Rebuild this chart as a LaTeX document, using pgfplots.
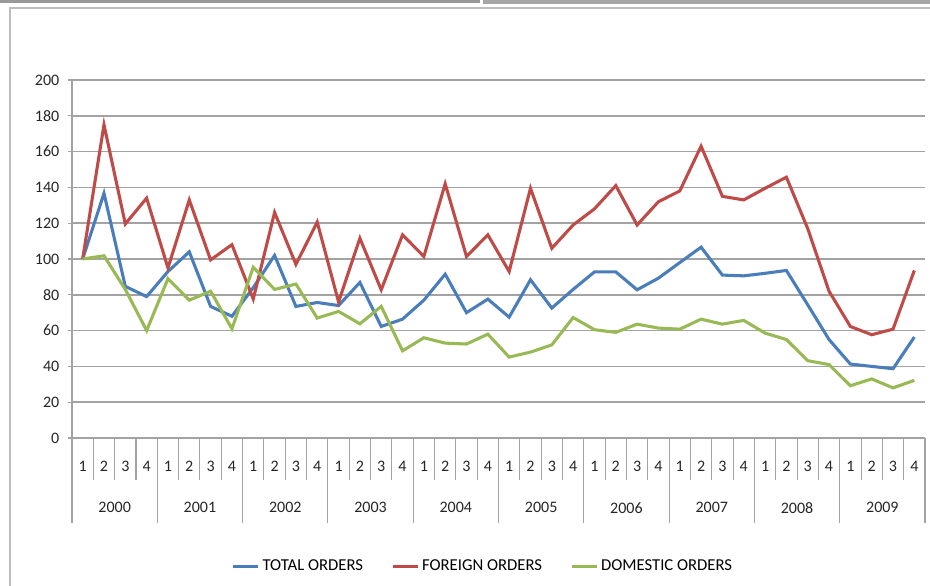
\documentclass[border=0pt]{standalone}
\usepackage{fontspec}
\setmainfont{Carlito}
\usepackage{pgfplots}
\pgfplotsset{compat=1.18}
\definecolor{cTot}{HTML}{4A7EBB}
\definecolor{cFor}{HTML}{BE4B48}
\definecolor{cDom}{HTML}{98B954}
\definecolor{gridc}{HTML}{A3A3A3}
\definecolor{framec}{HTML}{BDBDBD}
\pgfplotstableread{
x tot for dom
0.5 100 100 100
1.5 136.7 175 101.8
2.5 84.7 119.6 83
3.5 79 134 60
4.5 93 95 89
5.5 104 133 77
6.5 73.5 99.5 82
7.5 68 108 61
8.5 84 77.6 95.4
9.5 102 126 83
10.5 73.5 97 86
11.5 75.7 120.6 67
12.5 74 76 70.7
13.5 86.9 111.6 63.8
14.5 62.3 82.8 73.5
15.5 66.4 113.5 48.7
16.5 77 101.4 56
17.5 91.5 142 53
18.5 70 101.4 52.5
19.5 77.6 113.5 58
20.5 67.5 93 45.2
21.5 88.4 139.5 48
22.5 72.6 106 52
23.5 83 119 67.3
24.5 92.8 128 60.5
25.5 92.8 141 59
26.5 82.8 119 63.6
27.5 89.3 132 61.4
28.5 98 138 60.8
29.5 106.6 163 66.4
30.5 91 135 63.6
31.5 90.6 133 65.7
32.5 92 139.5 58.6
33.5 93.6 145.7 55
34.5 74.4 117 43.2
35.5 55 82 41
36.5 41.3 62.3 29.2
37.5 40 57.7 33
38.5 38.7 60.8 28
39.5 56.4 93.6 32.2
}\datatable
\begin{document}
\begin{tikzpicture}
\useasboundingbox (0pt,0pt) rectangle (697.5pt,438.75pt);
\fill[white] (0pt,0pt) rectangle (697.5pt,438.75pt);
\draw[framec, line width=1.5pt] (7.5pt,-5pt) -- (7.5pt,432.75pt) -- (705pt,432.75pt);
\draw[gray!80, line width=2.2pt] (0pt,437.6pt) -- (360pt,437.6pt);
\draw[gray!70, line width=2.6pt] (362pt,437.4pt) -- (697.5pt,437.4pt);
\begin{axis}[
  at={(54pt,110.25pt)}, anchor=south west,
  scale only axis, width=639.75pt, height=268.5pt,
  xmin=0, xmax=40, ymin=0, ymax=200,
  axis x line*=bottom, axis y line*=left,
  axis line style={gridc, line width=1.2pt},
  ytick={0,20,...,200},
  ymajorgrids, major grid style={gridc, line width=1.3pt},
  tick align=outside,
  ytick style={gridc, line width=1pt},
  major tick length=3pt,
  xtick={0.5,1.5,...,39.5},
  xticklabels={1,2,3,4,1,2,3,4,1,2,3,4,1,2,3,4,1,2,3,4,1,2,3,4,1,2,3,4,1,2,3,4,1,2,3,4,1,2,3,4},
  xtick style={draw=none},
  xticklabel style={anchor=center, yshift=-18.5pt},
  extra x ticks={2,6,...,38},
  extra x tick labels={2000,2001,2002,2003,2004,2005,2006,2007,2008,2009},
  extra x tick style={xtick style={draw=none}, xticklabel style={yshift=-30.75pt}},
  tick label style={font=\fontsize{12}{14}\selectfont, text=black!85},
  /pgf/number format/assume math mode=true,
  yticklabel style={xshift=-3pt},
  clip=false,
  legend columns=3,
  legend style={at={(0.482,-0.358)}, anchor=center, draw=none, fill=none,
    font=\fontsize{12.5}{14}\selectfont,
    /tikz/every even column/.append style={column sep=19pt}},
  legend image code/.code={\draw[#1] (0pt,0pt) -- (19pt,0pt);},
  legend cell align=left,
]
\pgfplotsinvokeforeach{1,2,3,5,6,7,9,10,11,13,14,15,17,18,19,21,22,23,25,26,27,29,30,31,33,34,35,37,38,39}{
  \draw[gridc, line width=0.8pt] (axis cs:#1,0) -- ++(0pt,-31.5pt);
}
\pgfplotsinvokeforeach{0,4,8,12,16,20,24,28,32,36,40}{
  \draw[gridc, line width=0.8pt] (axis cs:#1,0) -- ++(0pt,-63.75pt);
}
\addplot[cTot, line width=2.3pt] table[x=x, y=tot] {\datatable};
\addlegendentry{TOTAL ORDERS}
\addplot[cFor, line width=2.3pt] table[x=x, y=for] {\datatable};
\addlegendentry{FOREIGN ORDERS}
\addplot[cDom, line width=2.3pt] table[x=x, y=dom] {\datatable};
\addlegendentry{DOMESTIC ORDERS}
\end{axis}
\end{tikzpicture}
\end{document}
